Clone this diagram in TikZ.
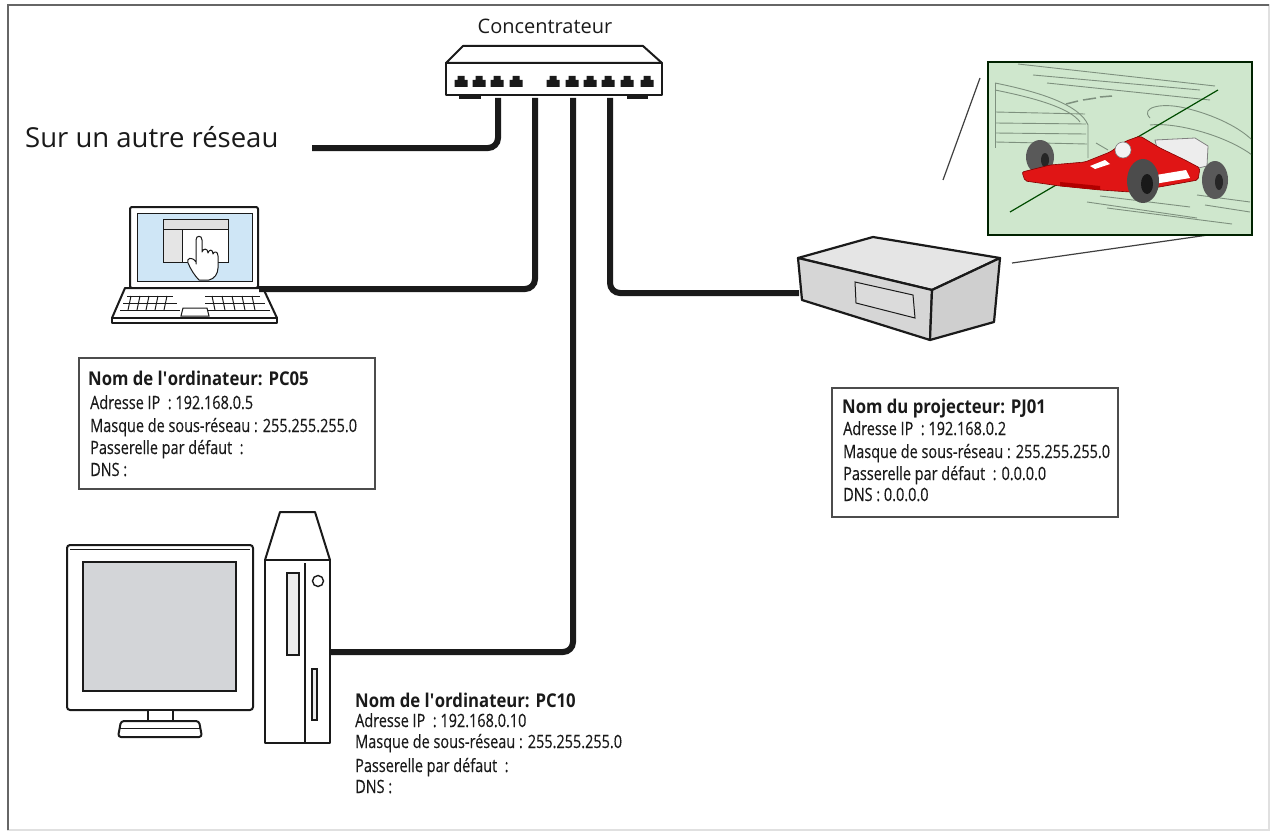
\documentclass[tikz,border=0pt]{standalone}
\usepackage{fontspec}
\setmainfont{Open Sans}
\newfontfamily\condfont[FakeStretch=0.79,FakeBold=0.35]{Open Sans}
\newfontfamily\titlefont[FakeStretch=0.88]{Open Sans}
\definecolor{ink}{HTML}{1A1A1A}
\definecolor{scrblue}{HTML}{CFE6F6}
\definecolor{mongray}{HTML}{D3D5D8}
\definecolor{scrgreen}{HTML}{CFE7CD}
\definecolor{trackc}{HTML}{7E907E}
\definecolor{carred}{HTML}{E01515}
\begin{document}
\begin{tikzpicture}[x=1pt,y=-1pt,
  cable/.style={line width=6pt, rounded corners=10pt, draw=ink},
  outl/.style={line width=2pt, line join=round, draw=ink},
  thinl/.style={line width=1pt, draw=ink},
  infobox/.style={draw=black!70, line width=1.6pt},
  infotitle/.style={anchor=base west, inner sep=0pt, text=ink, font=\titlefont\bfseries\fontsize{19}{22}\selectfont},
  infoline/.style={anchor=base west, inner sep=0pt, text=ink, font=\condfont\fontsize{18.3}{22}\selectfont},
  track/.style={line width=0.9pt, draw=trackc}]
\useasboundingbox (0,0) rectangle (1276,832);
% frame
\draw[line width=1.2pt, draw=black!12] (8,5) rectangle (1269,830);
\draw[line width=1.8pt, draw=black!60] (8,830) -- (8,5) -- (1269,5);

% ---------- hub ----------
\node[text=ink, font=\fontsize{20}{24}\selectfont, inner sep=0pt] (hublabel) at (545,26) {Concentrateur};
\draw[outl, fill=white] (446,63) -- (463,46) -- (643,46) -- (662,63) -- cycle;
\draw[outl, fill=white] (446,63) rectangle (662,95);
\fill[ink] (459,95) rectangle (481,99);
\fill[ink] (627,95) rectangle (648,99);
\foreach \px in {461,479,497,516,553,572,590,608,627,647}
  \fill[ink] (\px-6.5,87) -- (\px-6.5,80) -- (\px-3.5,80) -- (\px-3.5,76) -- (\px+3.5,76) -- (\px+3.5,80) -- (\px+6.5,80) -- (\px+6.5,87) -- cycle;
\coordinate (hubA) at (498,98);
\coordinate (hubB) at (535,98);
\coordinate (hubC) at (573,98);
\coordinate (hubD) at (610,98);

% ---------- other network ----------
\node[anchor=base west, inner sep=0pt, text=ink, font=\fontsize{27.5}{32}\selectfont] (net) at (25,147) {Sur un autre réseau};
\coordinate (netEnd) at (312,148);

% ---------- laptop ----------
\draw[outl, fill=white, rounded corners=2pt] (130,207) rectangle (258,288);
\draw[thinl, fill=scrblue] (137,213) rectangle (252,281);
\draw[thinl, fill=white] (163,219) rectangle (228,262);
\draw[thinl, fill=black!12] (163,219) rectangle (228,229);
\draw[thinl, fill=black!10] (163,229) rectangle (182,262);
\draw[thinl, fill=white, line join=round] (196,264) -- (196,240) .. controls (196,235) and (202,235) .. (202,240) -- (202,252)
  .. controls (203,248) and (208,248) .. (208,253) .. controls (209,249) and (213,249) .. (213,254)
  .. controls (214,251) and (218,251) .. (218,256) -- (218,268) .. controls (218,274) and (214,279) .. (209,280)
  -- (199,280) .. controls (195,276) and (191,270) .. (188,263) .. controls (186,258) and (192,256) .. (196,262) -- cycle;
\draw[outl, fill=white] (125,288) -- (263,288) -- (277,318) -- (112,318) -- cycle;
\draw[outl, fill=white] (112,318) -- (277,318) -- (277,323) -- (112,323) -- cycle;
\draw[thinl] (127,296) -- (173,296) (123,303) -- (177,303) (120,310) -- (180,310);
\foreach \kx in {131,140,149,158,167}
  \draw[thinl] (\kx,296) -- (\kx-3,310);
\draw[thinl] (205,296) -- (260,296) (205,303) -- (265,303) (208,310) -- (270,310);
\foreach \kx in {212,222,232,242,252}
  \draw[thinl] (\kx,296) -- (\kx+3,310);
\draw[thinl, fill=white] (183,308) -- (207,308) -- (209,316) -- (181,316) -- cycle;
\coordinate (laptopPort) at (259,289);

% ---------- info PC05 ----------
\draw[infobox] (79,358) rectangle (375,489);
\node[infotitle] (pc05t) at (88,385) {Nom de l\textquotesingle ordinateur: PC05};
\node[infoline] (pc05a) at (90,409) {Adresse IP~ : 192.168.0.5};
\node[infoline] (pc05b) at (90,432) {Masque de sous-réseau : 255.255.255.0};
\node[infoline] (pc05c) at (90,454) {Passerelle par défaut~ :};
\node[infoline] (pc05d) at (90,476) {DNS :};

% ---------- desktop ----------
\draw[outl, fill=white, rounded corners=3pt] (67,545) rectangle (253,710);
\draw[thinl] (70,549) -- (250,549);
\draw[thinl, line width=1.4pt, fill=mongray] (83,562) rectangle (236,691);
\draw[outl, fill=white] (148,710) rectangle (173,721);
\draw[outl, fill=white, rounded corners=3pt] (118,737) -- (121,721) -- (199,721) -- (202,737) -- cycle;
\draw[thinl] (120,728) -- (200,728);
\draw[outl, fill=white] (280,512) -- (315,512) -- (330,560) -- (265,560) -- cycle;
\draw[outl, fill=white] (265,560) rectangle (330,743);
\draw[thinl, line width=1.5pt] (305,563) -- (305,743);
\draw[thinl, line width=1.4pt, fill=black!8] (287,573) rectangle (299,655);
\draw[thinl, line width=1.4pt, fill=white] (318,581) circle [radius=5.5];
\draw[thinl, line width=1.4pt, fill=black!8] (312,669) rectangle (317,720);
\coordinate (towerPort) at (331,652);

% ---------- info PC10 ----------
\node[infotitle] (pc10t) at (355,707) {Nom de l\textquotesingle ordinateur: PC10};
\node[infoline] (pc10a) at (355,727) {Adresse IP~ : 192.168.0.10};
\node[infoline] (pc10b) at (355,748) {Masque de sous-réseau : 255.255.255.0};
\node[infoline] (pc10c) at (355,772) {Passerelle par défaut~ :};
\node[infoline] (pc10d) at (355,793) {DNS :};

% ---------- projector ----------
\draw[outl, line width=2.2pt, fill=black!10] (798,258) -- (873,237) -- (1000,258) -- (932,290) -- cycle;
\draw[outl, line width=2.2pt, fill=black!16] (798,258) -- (932,290) -- (930,340) -- (802,300) -- cycle;
\draw[outl, line width=2.2pt, fill=black!19] (932,290) -- (1000,258) -- (994,322) -- (930,340) -- cycle;
\draw[thinl, fill=black!14] (855,282) -- (913,295) -- (915,318) -- (856,303) -- cycle;
\coordinate (projPort) at (799,293);

% ---------- projected image ----------
\draw[line width=1.2pt, draw=black!75] (980,78) -- (943,180);
\draw[line width=1.2pt, draw=black!75] (1012,263) -- (1243,230);
\draw[line width=1.5pt, draw=black!55!green!30!black, fill=scrgreen] (988,62) rectangle (1252,235);
\begin{scope}
\clip (989,63) rectangle (1251,234);
\draw[track] (1018,64) -- (1215,86);
\draw[track] (1033,75) -- (1200,90);
\draw[track] (1047,83) -- (1210,100);
\draw[track] (995,83) .. controls (1040,92) and (1080,105) .. (1088,125) -- (1088,158);
\draw[track] (995,90) .. controls (1035,98) and (1070,108) .. (1080,122);
\draw[track] (995,112) -- (1085,114);
\draw[track] (995,123) -- (1086,124);
\draw[track] (995,133) -- (1086,134);
\draw[track] (995,142) -- (1087,144);
\draw[track] (995,83) -- (995,148);
\draw[track, line width=1.5pt] (1066,104) -- (1078,101) (1083,100) -- (1096,98) (1100,97) -- (1112,96);
\draw[track] (1150,118) .. controls (1140,108) and (1160,102) .. (1185,108) .. controls (1215,115) and (1240,128) .. (1252,140);
\draw[track] (1150,125) .. controls (1175,122) and (1225,135) .. (1252,155);
\draw[track] (1096,143) -- (1108,150);
\draw[track] (1087,202) -- (1197,218);
\draw[track] (1107,208) -- (1232,224);
\draw[track] (1100,196) -- (1190,207);
\draw[track] (1197,195) -- (1250,202);
\draw[track] (1205,205) -- (1250,212);
\draw[line width=1.2pt, draw=black!70!green] (1010,212) -- (1218,90);
% car
\draw[draw=black!50, fill=black!7, line width=0.8pt] (1155,140) -- (1195,138) -- (1208,146) -- (1207,166) -- (1190,170) -- (1160,160) -- cycle;
\fill[black!65] (1215,180) ellipse [x radius=13, y radius=19];
\fill[black!85] (1219,182) ellipse [x radius=4, y radius=8];
\fill[black!65] (1040,157) ellipse [x radius=14, y radius=17];
\fill[black!85] (1045,160) ellipse [x radius=4, y radius=7];
\draw[draw=red!50!black, fill=carred, line width=0.6pt, rounded corners=2pt] (1022,172) -- (1050,165) -- (1085,162) -- (1110,152) -- (1126,141) -- (1140,136) -- (1160,148) -- (1185,160) -- (1200,168) -- (1198,180) -- (1165,186) -- (1130,192) -- (1100,190) -- (1060,186) -- (1025,181) -- cycle;
\fill[white] (1150,176) -- (1186,170) -- (1190,178) -- (1154,184) -- cycle;
\fill[red!70!black] (1060,182) -- (1100,186) -- (1100,190) -- (1060,186) -- cycle;
\fill[white] (1090,166) -- (1105,160) -- (1110,164) -- (1095,169) -- cycle;
\draw[black!50, fill=black!5, line width=0.6pt] (1123,150) circle [radius=8];
\fill[black!70] (1143,181) ellipse [x radius=16, y radius=22];
\fill[black!90] (1147,184) ellipse [x radius=6, y radius=10];
\end{scope}

% ---------- info PJ01 ----------
\draw[infobox] (832,388) rectangle (1118,517);
\node[infotitle] (pj01t) at (842,413) {Nom du projecteur: PJ01};
\node[infoline] (pj01a) at (843,435) {Adresse IP~ : 192.168.0.2};
\node[infoline] (pj01b) at (843,458) {Masque de sous-réseau : 255.255.255.0};
\node[infoline] (pj01c) at (843,480) {Passerelle par défaut~ : 0.0.0.0};
\node[infoline] (pj01d) at (843,501) {DNS : 0.0.0.0};

% ---------- cables ----------
\draw[cable] (hubA) |- (netEnd);
\draw[cable] (hubB) |- (laptopPort);
\draw[cable] (hubC) |- (towerPort);
\draw[cable] (hubD) |- (projPort);
\end{tikzpicture}
\end{document}
